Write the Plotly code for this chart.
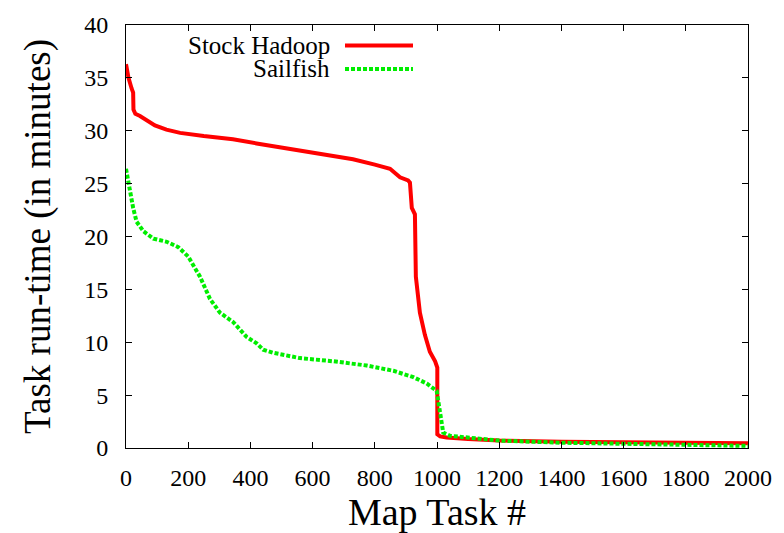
import plotly.graph_objects as go

hadoop_x = [0, 8, 18, 23, 24, 30, 45, 77, 93, 130, 174, 250, 344, 420, 505, 603, 680, 730, 800, 849, 881, 907, 913, 919, 929, 932, 945, 961, 977, 994, 1001, 1001, 1010, 1031, 1100, 1200, 1400, 1600, 1800, 2000]
hadoop_y = [36.3, 35.0, 34.0, 33.6, 32.0, 31.6, 31.4, 30.8, 30.5, 30.1, 29.8, 29.5, 29.2, 28.8, 28.4, 27.9, 27.6, 27.3, 26.8, 26.4, 25.6, 25.3, 25.1, 22.7, 22.1, 16.2, 12.8, 10.7, 9.1, 8.2, 7.6, 1.3, 1.1, 1.0, 0.85, 0.7, 0.6, 0.55, 0.5, 0.45]

sailfish_x = [0, 5, 13, 23, 34, 56, 88, 131, 168, 200, 238, 270, 302, 345, 388, 420, 441, 474, 559, 667, 774, 860, 924, 967, 999, 1010, 1020, 1042, 1095, 1200, 1400, 1600, 1800, 2000]
sailfish_y = [26.4, 25.5, 24.5, 22.7, 21.4, 20.5, 19.8, 19.5, 19.0, 18.1, 16.2, 14.1, 12.8, 11.9, 10.5, 9.9, 9.3, 9.0, 8.5, 8.2, 7.8, 7.3, 6.7, 6.1, 5.4, 3.3, 1.45, 1.15, 1.0, 0.7, 0.5, 0.4, 0.3, 0.2]

series_names = ["Stock Hadoop", "Sailfish"]
x_ticks = [0, 200, 400, 600, 800, 1000, 1200, 1400, 1600, 1800, 2000]
y_ticks = [0, 5, 10, 15, 20, 25, 30, 35, 40]

RED = "#ff0000"
GREEN = "#00ee00"
FONT = "Liberation Serif"

fig = go.Figure()
fig.add_trace(go.Scatter(x=hadoop_x, y=hadoop_y, mode="lines", name=series_names[0],
                         line=dict(color=RED, width=4), showlegend=False))
fig.add_trace(go.Scatter(x=sailfish_x, y=sailfish_y, mode="lines", name=series_names[1],
                         line=dict(color=GREEN, width=4, dash="4px,2px"), showlegend=False))

def axis_common():
    return dict(showgrid=False, zeroline=False, showline=True, linecolor="black", linewidth=1,
                ticks="inside", ticklen=6, tickcolor="black", mirror="allticks",
                tickfont=dict(family=FONT, size=24, color="black"))

fig.update_layout(
    width=784, height=533,
    margin=dict(l=126, r=36, t=16, b=84),
    paper_bgcolor="white", plot_bgcolor="white",
    font=dict(family=FONT, size=24, color="black"),
    xaxis=dict(range=[0, 2000], tickvals=x_ticks, ticktext=[str(v) for v in x_ticks],
               ticklabelstandoff=8,
               title=dict(text="Map Task #", font=dict(family=FONT, size=38, color="black"), standoff=4),
               **axis_common()),
    yaxis=dict(range=[0, 40], tickvals=y_ticks, ticktext=[str(v) for v in y_ticks],
               ticklabelstandoff=12,
               title=dict(text="Task run-time (in minutes)", font=dict(family=FONT, size=37, color="black"), standoff=22),
               **axis_common()),
)

# gnuplot-style legend: right-aligned text followed by line sample
legend_rows = [(series_names[0], RED, "solid", 37), (series_names[1], GREEN, "4px,2px", 61)]
H = 533
for name, col, dash, ypx in legend_rows:
    yp = (H - ypx - 84) / (H - 100)
    fig.add_annotation(xref="paper", yref="paper", x=(332 - 126) / (748 - 126), y=yp,
                       text=name, showarrow=False, xanchor="right", yanchor="middle",
                       font=dict(family=FONT, size=25, color="black"))
    fig.add_shape(type="line", xref="paper", yref="paper",
                  x0=(345 - 126) / (748 - 126), x1=(413 - 126) / (748 - 126),
                  y0=yp, y1=yp, line=dict(color=col, width=4, dash=dash))

fig.write_html("out.html")
